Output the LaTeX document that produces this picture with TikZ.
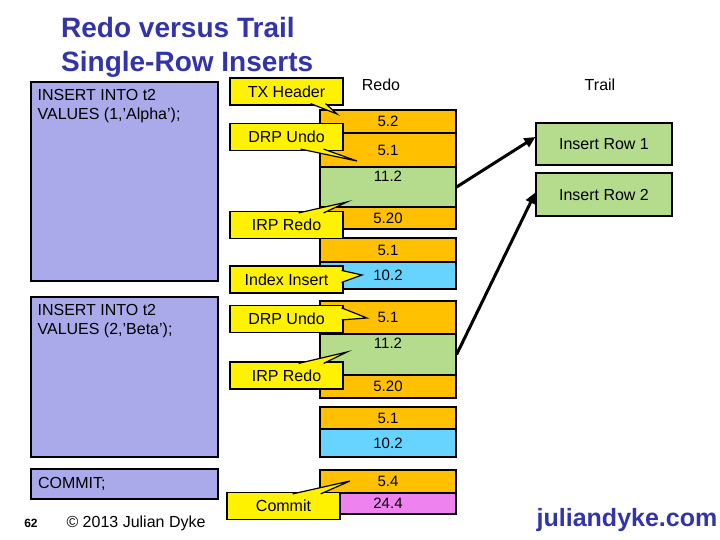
\documentclass[tikz,border=0pt]{standalone}
\usepackage{fontspec}
\setmainfont{Liberation Sans}
\usetikzlibrary{arrows.meta,calc}
\definecolor{lavender}{HTML}{AAAAEA}
\definecolor{gold}{HTML}{FFC000}
\definecolor{leaf}{HTML}{B4DC8C}
\definecolor{sky}{HTML}{66D4FF}
\definecolor{pink}{HTML}{EE82EE}
\definecolor{titleblue}{HTML}{3333AA}
\tikzset{
  sqlbox/.style={draw,line width=1.2pt,fill=lavender,minimum width=187pt,inner sep=0pt},
  sqltext/.style={anchor=north west,align=left,inner xsep=7pt,inner ysep=8pt,
    font=\fontsize{16}{19}\selectfont},
  redocell/.style={draw,line width=1.2pt,minimum width=136pt,inner sep=0pt,
    font=\fontsize{15}{18}\selectfont},
  celltop/.style={anchor=north,inner sep=4pt,font=\fontsize{15}{18}\selectfont},
  trailbox/.style={draw,line width=1.2pt,fill=leaf,minimum width=136pt,inner sep=0pt,
    font=\fontsize{16}{19}\selectfont},
  callout/.style={draw,line width=1.2pt,fill=yellow,minimum width=113pt,minimum height=27pt,
    inner sep=0pt,font=\fontsize{16}{19}\selectfont},
  wedge/.style={draw,line width=1.2pt,fill=yellow},
  arrow/.style={-{Triangle[length=11pt,width=10pt]},line width=3pt},
  heading/.style={font=\fontsize{16}{19}\selectfont}
}
\begin{document}
\begin{tikzpicture}[x=1pt,y=-1pt]
\useasboundingbox (0,0) rectangle (720,540);

\node[anchor=north west,inner sep=0pt,align=left,text=titleblue,
  font=\fontsize{28}{34}\selectfont\bfseries] (title) at (61,17) {Redo versus Trail\\Single-Row Inserts};

\node[sqlbox,minimum height=199pt,
  label={[sqltext]north west:INSERT INTO t2\\VALUES (1,’Alpha’);}] (stmt1) at (124.5,181.5) {};
\node[sqlbox,minimum height=160pt,
  label={[sqltext]north west:INSERT INTO t2\\VALUES (2,’Beta’);}] (stmt2) at (124.5,377) {};
\node[sqlbox,minimum height=30pt,text width=173pt,align=left,
  font=\fontsize{16}{19}\selectfont] (stmt3) at (124.5,484) {COMMIT;};

\node[heading] (redohd) at (381,85) {Redo};
\node[heading] (trailhd) at (600,85) {Trail};

\node[redocell,fill=gold,minimum height=23pt] (tx52) at (388,121.5) {5.2};
\node[redocell,fill=gold,minimum height=34pt] (u51a) at (388,150) {5.1};
\node[redocell,fill=leaf,minimum height=40pt,label={[celltop]north:11.2}] (ins112a) at (388,187) {};
\node[redocell,fill=gold,minimum height=22pt] (irp520a) at (388,218) {5.20};

\node[redocell,fill=gold,minimum height=24pt] (u51b) at (388,250) {5.1};
\node[redocell,fill=sky,minimum height=27pt] (idx102a) at (388,275.5) {10.2};

\node[redocell,fill=gold,minimum height=33pt] (u51c) at (388,317.5) {5.1};
\node[redocell,fill=leaf,minimum height=41pt,label={[celltop]north:11.2}] (ins112b) at (388,354.5) {};
\node[redocell,fill=gold,minimum height=23pt] (irp520b) at (388,386.5) {5.20};

\node[redocell,fill=gold,minimum height=22pt] (u51d) at (388,418) {5.1};
\node[redocell,fill=sky,minimum height=28pt] (idx102b) at (388,443) {10.2};

\node[redocell,fill=gold,minimum height=23pt] (c54) at (388,481.5) {5.4};
\node[redocell,fill=pink,minimum height=21pt] (c244) at (388,503.5) {24.4};

\node[trailbox,minimum height=42pt] (row1) at (604,144) {Insert Row 1};
\node[trailbox,minimum height=43pt] (row2) at (604,194.5) {Insert Row 2};

\draw[arrow] (ins112a.east)--([yshift=7pt]row1.west);
\draw[arrow] (ins112b.east)--([yshift=2pt]row2.west);

\node[callout] (txh) at (286.5,91.5) {TX Header};
\node[callout] (drp1) at (286.5,137) {DRP Undo};
\node[callout] (irp1) at (286.5,225) {IRP Redo};
\node[callout] (idx) at (286.5,279.5) {Index Insert};
\node[callout] (drp2) at (286.5,319) {DRP Undo};
\node[callout] (irp2) at (286.5,375.5) {IRP Redo};
\node[callout] (cmt) at (283.5,506) {Commit};

\coordinate (txhtip) at (337,114);
\coordinate (drp1tip) at (357,161);
\coordinate (irp1tip) at (347,202);
\coordinate (idxtip) at (362,275);
\coordinate (drp2tip) at (367,318);
\coordinate (irp2tip) at (347,352);
\coordinate (cmttip) at (350,481);

\path[wedge] ($(txh.south east)+(-33,-2)$)--(txhtip)--($(txh.south east)+(-18,-2)$);
\path[wedge] ($(drp1.south east)+(-43,-2)$)--(drp1tip)--($(drp1.south east)+(-20,-2)$);
\path[wedge] ($(irp1.north east)+(-45,2)$)--(irp1tip)--($(irp1.north east)+(-20,2)$);
\path[wedge] ($(idx.north east)+(-2,5)$)--(idxtip)--($(idx.north east)+(-2,17)$);
\path[wedge] ($(drp2.north east)+(-2,3)$)--(drp2tip)--($(drp2.north east)+(-2,15)$);
\path[wedge] ($(irp2.north east)+(-45,2)$)--(irp2tip)--($(irp2.north east)+(-20,2)$);
\path[wedge] ($(cmt.north east)+(-48,2)$)--(cmttip)--($(cmt.north east)+(-20,2)$);

\node[font=\fontsize{12}{14}\selectfont\bfseries] (slideno) at (31,523) {62};
\node[font=\fontsize{16}{19}\selectfont] (copyright) at (136,523) {© 2013 Julian Dyke};
\node[font=\fontsize{25}{30}\selectfont\bfseries,text=titleblue] (site) at (627,520) {juliandyke.com};
\end{tikzpicture}
\end{document}
